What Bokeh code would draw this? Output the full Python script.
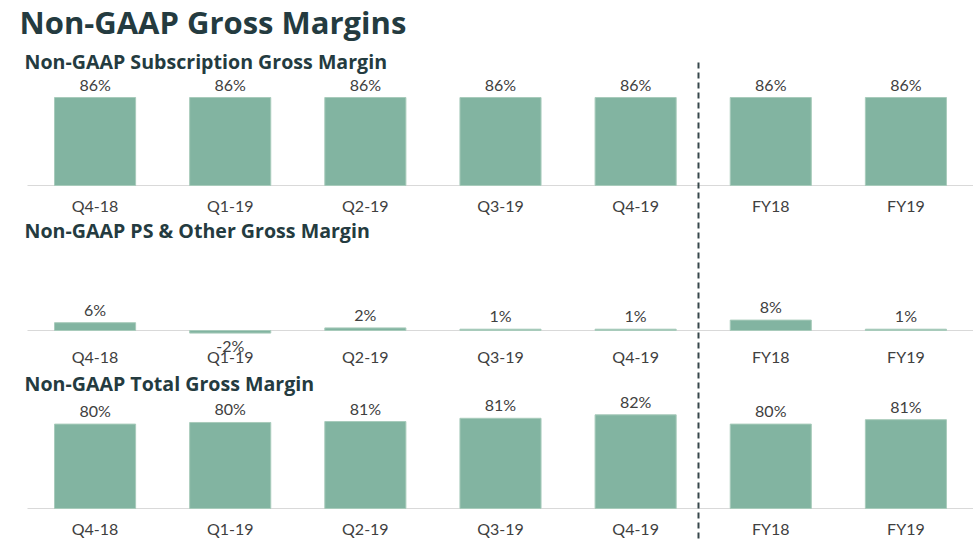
from bokeh.plotting import figure
from bokeh.models import Range1d, ColumnDataSource
from bokeh.embed import file_html
from bokeh.resources import INLINE
from bokeh.core.properties import value

# ---------------- data ----------------
categories = ["Q4-18", "Q1-19", "Q2-19", "Q3-19", "Q4-19", "FY18", "FY19"]
subscription_gm = [86, 86, 86, 86, 86, 86, 86]
ps_other_gm = [6, -2, 2, 1, 1, 8, 1]
total_gm = [80.15, 80.5, 80.7, 81.4, 82.15, 80.15, 81.1]

main_title = "Non-GAAP Gross Margins"
panel_titles = ["Non-GAAP Subscription Gross Margin",
                "Non-GAAP PS & Other Gross Margin",
                "Non-GAAP Total Gross Margin"]

# ---------------- layout / style ----------------
W, H = 973, 542
OX, OY = 0, 0               # figure position on the page
STEP = 135.14               # px per category
X0 = 27                     # left edge of category area (page px)
FONT = value("Lato")
HFONT = value("Open Sans")
BAR = "#82B4A1"
BAR_EDGE = "#A8CBBB"
TXT = "#404040"
HEAD = "#243B40"

p = figure(width=W, height=H, output_backend="svg", toolbar_location=None,
           x_axis_location=None, y_axis_location=None, min_border=0,
           x_range=Range1d((OX - X0) / STEP, (OX + W - X0) / STEP),
           y_range=Range1d(OY + H, OY),
           outline_line_color=None, background_fill_color="white",
           border_fill_color="white")
p.extra_x_ranges = {"px": Range1d(OX, OX + W)}
p.grid.grid_line_color = None

xs = [i + 0.5 for i in range(len(categories))]
x_end = (OX + W - X0) / STEP

# panel geometry: (name, values, baseline px, base value, px per %, category label offset, title y)
panels = [
    ("p1", subscription_gm, 185, 0, 88 / 86, 20, 61),
    ("p2", ps_other_gm, 330, 0, 1.3, 26, 230),
    ("p3", total_gm, 508, 62, 4.65, 20, 383),
]

ranges = {}
for name, vals, base_px, base_val, k, cat_off, title_y in panels:
    ranges[name] = Range1d(base_val - (OY + H - base_px) / k, base_val + (base_px - OY) / k)
p.extra_y_ranges = ranges

for (name, vals, base_px, base_val, k, cat_off, title_y), ttl in zip(panels, panel_titles):
    src = ColumnDataSource(dict(
        x=xs, top=vals, cat=categories,
        base=[base_val] * len(vals),
        lab=[f"{v:.0f}%" for v in vals],
        off=[-13.5 if v >= 0 else 12 for v in vals],
    ))
    # baseline
    p.segment(x0=[0], x1=[x_end], y0=[base_val], y1=[base_val],
              y_range_name=name, line_color="#D9D9D9", line_width=1.2)
    p.vbar(x="x", top="top", bottom="base", width=0.6, source=src, y_range_name=name,
           fill_color=BAR, line_color=BAR_EDGE, line_width=1)
    p.text(x="x", y="top", text="lab", y_offset="off", source=src, y_range_name=name,
           text_align="center", text_baseline="middle", text_font=FONT,
           text_font_size="16px", text_color=TXT)
    p.text(x="x", y="base", text="cat", y_offset=cat_off, source=src, y_range_name=name,
           text_align="center", text_baseline="middle", text_font=FONT,
           text_font_size="16px", text_color=TXT)
    p.text(x=[24], y=[title_y], text=[ttl], x_range_name="px",
           text_align="left", text_baseline="middle", text_font=HFONT,
           text_font_style="bold", text_font_size="19.6px", text_color=HEAD)

# main title
p.text(x=[19], y=[21], text=[main_title], x_range_name="px",
       text_align="left", text_baseline="middle", text_font=HFONT,
       text_font_style="bold", text_font_size="31px", text_color=HEAD)

# dashed separator between quarters and fiscal years
sep_x = (698 - X0) / STEP
p.segment(x0=[sep_x], x1=[sep_x], y0=[62], y1=[OY + H], line_color="#37474B",
          line_width=2, line_dash="6 4")

open("out.html", "w").write(file_html(p, INLINE))
